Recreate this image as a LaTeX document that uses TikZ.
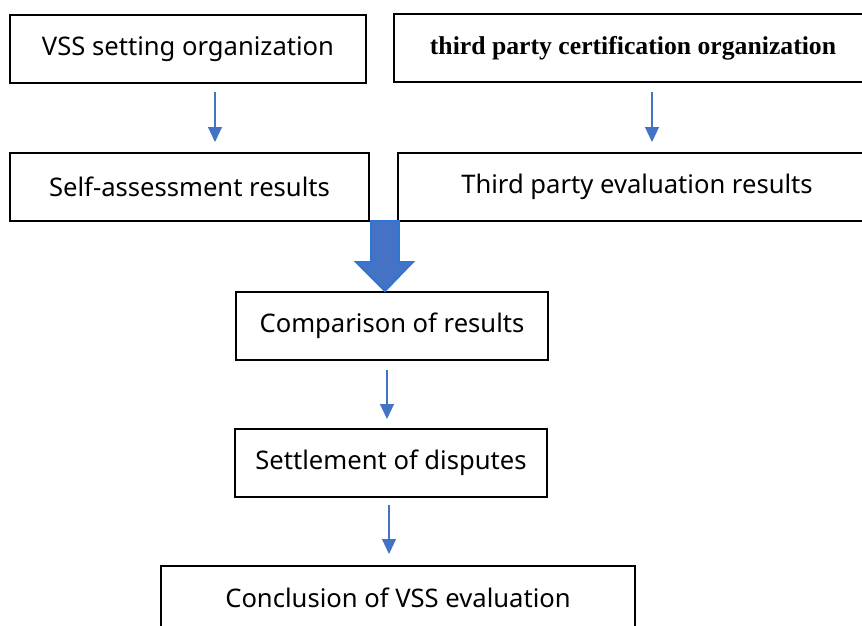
\documentclass[tikz,border=0pt]{standalone}
\usepackage{fontspec}
\setmainfont{Noto Sans}
\newfontfamily\tnr{Liberation Serif}
\usetikzlibrary{arrows.meta}
\definecolor{arrblue}{HTML}{4472C4}
\definecolor{arredge}{HTML}{2E75D6}
\tikzset{
  box/.style={draw=black, line width=1.3pt, minimum height=68pt, inner sep=0pt, font=\fontsize{25.6}{30}\selectfont},
  arr/.style={draw=arrblue, line width=1.1pt, -{Triangle[length=15pt,width=14pt]}},
}
\begin{document}
\begin{tikzpicture}[x=1pt,y=-1pt]
\useasboundingbox (0,0) rectangle (862,626);
\clip (0,0) rectangle (862,626);
\node[box, minimum width=356pt] (b1) at (188,49) {VSS setting organization};
\node[box, minimum width=478pt, font=\tnr\bfseries\fontsize{25.7}{30}\selectfont] (b2) at (633,48) {third party certification organization};
\node[box, minimum width=359pt] (b3) at (189.5,187) {Self-assessment results};
\node[box, minimum width=478pt] (b4) at (637,187) {Third party evaluation results};
\node[box, minimum width=312pt] (b5) at (392,326) {Comparison of results};
\node[box, minimum width=312pt] (b6) at (391,463) {Settlement of disputes};
\node[box, minimum width=474pt, minimum height=64pt] (b7) at (398,598) {Conclusion of VSS evaluation};
% thin arrows
\coordinate (a1s) at (215,92);  \coordinate (a1e) at (215,142);
\coordinate (a2s) at (652,92);  \coordinate (a2e) at (652,142);
\coordinate (a3s) at (387,370); \coordinate (a3e) at (387,419);
\coordinate (a4s) at (389,505); \coordinate (a4e) at (389,554);
\draw[arr] (a1s) -- (a1e);
\draw[arr] (a2s) -- (a2e);
\draw[arr] (a3s) -- (a3e);
\draw[arr] (a4s) -- (a4e);
% block arrow
\draw[fill=arrblue, draw=arredge, line width=1.8pt, line join=miter]
  (371,221) -- (399,221) -- (399,262) -- (413,262) -- (385,291) -- (356,262) -- (371,262) -- cycle;
\end{tikzpicture}
\end{document}
